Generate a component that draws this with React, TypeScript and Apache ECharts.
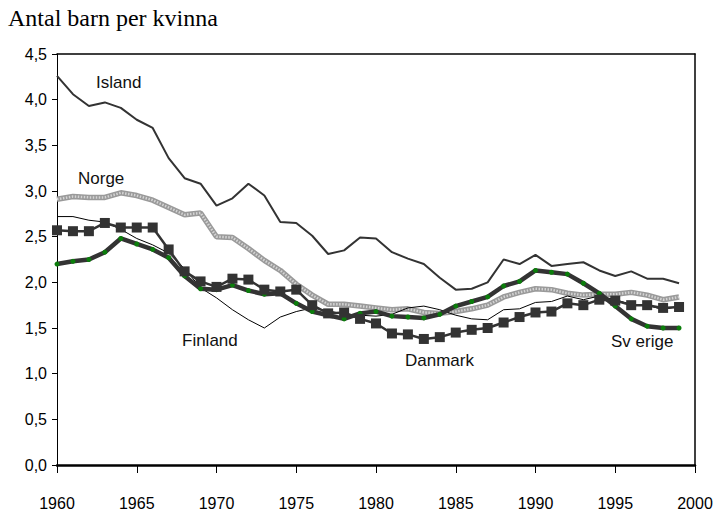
import React, { useEffect, useRef } from "react";
import * as echarts from "echarts";

const years = [
  1960, 1961, 1962, 1963, 1964, 1965, 1966, 1967, 1968, 1969,
  1970, 1971, 1972, 1973, 1974, 1975, 1976, 1977, 1978, 1979,
  1980, 1981, 1982, 1983, 1984, 1985, 1986, 1987, 1988, 1989,
  1990, 1991, 1992, 1993, 1994, 1995, 1996, 1997, 1998, 1999,
];

const island = [
  4.26, 4.06, 3.93, 3.97, 3.91, 3.78, 3.69, 3.36, 3.14, 3.08,
  2.84, 2.92, 3.08, 2.95, 2.66, 2.65, 2.51, 2.31, 2.35, 2.49,
  2.48, 2.33, 2.26, 2.2, 2.05, 1.92, 1.93, 2.0, 2.25, 2.2,
  2.3, 2.18, 2.2, 2.22, 2.13, 2.07, 2.12, 2.04, 2.04, 1.99,
];

const norge = [
  2.91, 2.94, 2.93, 2.93, 2.98, 2.95, 2.9, 2.82, 2.74, 2.76,
  2.5, 2.49, 2.37, 2.24, 2.13, 1.98, 1.86, 1.76, 1.76, 1.74,
  1.72, 1.7, 1.71, 1.67, 1.66, 1.68, 1.71, 1.75, 1.84, 1.89,
  1.93, 1.92, 1.88, 1.86, 1.87, 1.87, 1.89, 1.86, 1.81, 1.84,
];

const finland = [
  2.72, 2.72, 2.68, 2.66, 2.58, 2.48, 2.41, 2.32, 2.15, 1.94,
  1.83, 1.7, 1.59, 1.5, 1.62, 1.68, 1.72, 1.69, 1.65, 1.64,
  1.63, 1.65, 1.72, 1.74, 1.7, 1.64, 1.6, 1.59, 1.7, 1.71,
  1.78, 1.79, 1.85, 1.81, 1.85, 1.81, 1.76, 1.75, 1.7, 1.74,
];

const danmark = [
  2.57, 2.56, 2.56, 2.65, 2.6, 2.6, 2.6, 2.36, 2.12, 2.01,
  1.95, 2.04, 2.03, 1.92, 1.9, 1.92, 1.75, 1.66, 1.67, 1.6,
  1.55, 1.44, 1.43, 1.38, 1.4, 1.45, 1.48, 1.5, 1.56, 1.62,
  1.67, 1.68, 1.77, 1.75, 1.81, 1.8, 1.75, 1.75, 1.72, 1.73,
];

const sverige = [
  2.2, 2.23, 2.25, 2.33, 2.48, 2.42, 2.36, 2.27, 2.07, 1.93,
  1.92, 1.97, 1.91, 1.87, 1.88, 1.77, 1.68, 1.64, 1.6, 1.66,
  1.68, 1.63, 1.62, 1.61, 1.65, 1.74, 1.79, 1.84, 1.96, 2.01,
  2.13, 2.11, 2.09, 1.99, 1.88, 1.74, 1.6, 1.52, 1.5, 1.5,
];

const title = "Antal barn per kvinna";
const seriesLabels = [
  { text: "Island", x: 96, y: 82 },
  { text: "Norge", x: 78, y: 178 },
  { text: "Finland", x: 182, y: 340 },
  { text: "Danmark", x: 405, y: 360 },
  { text: "Sv erige", x: 611, y: 341 },
];

const SANS = '"Liberation Sans Narrow", "Arial Narrow", "Liberation Sans", Arial, sans-serif';

const pair = (vals: number[]) => vals.map((v, i) => [years[i], v]);

export default function App() {
  const ref = useRef<HTMLDivElement>(null);
  useEffect(() => {
    if (!ref.current) return;
    const chart = echarts.init(ref.current, undefined, { renderer: "svg" });
    chart.setOption({
      animation: false,
      backgroundColor: "#ffffff",
      grid: {
        left: 57,
        right: 22,
        top: 54,
        bottom: 50,
        show: false,
      },
      xAxis: [
        {
          type: "value",
          min: 1960,
          max: 2000,
          interval: 5,
          position: "bottom",
          axisLine: { show: true, onZero: false, lineStyle: { color: "#000", width: 2.5 } },
          axisTick: { show: true, length: 8, lineStyle: { color: "#000", width: 1 } },
          axisLabel: {
            color: "#000",
            fontSize: 16,
            fontFamily: SANS,
            margin: 30,
            formatter: (v: number) => String(v),
          },
          splitLine: { show: false },
        },
        {
          type: "value",
          min: 1960,
          max: 2000,
          position: "top",
          axisLine: { show: true, onZero: false, lineStyle: { color: "#000", width: 1.5 } },
          axisTick: { show: false },
          axisLabel: { show: false },
          splitLine: { show: false },
        },
      ],
      yAxis: [
        {
          type: "value",
          min: 0,
          max: 4.5,
          interval: 0.5,
          position: "left",
          axisLine: { show: true, onZero: false, lineStyle: { color: "#000", width: 1 } },
          axisTick: { show: true, length: 5, lineStyle: { color: "#000" } },
          axisLabel: {
            color: "#000",
            fontSize: 16,
            fontFamily: SANS,
            margin: 10,
            formatter: (v: number) => v.toFixed(1).replace(".", ","),
          },
          splitLine: { show: false },
        },
        {
          type: "value",
          min: 0,
          max: 4.5,
          position: "right",
          axisLine: { show: true, onZero: false, lineStyle: { color: "#000", width: 1.5 } },
          axisTick: { show: false },
          axisLabel: { show: false },
          splitLine: { show: false },
        },
      ],
      graphic: [
        {
          type: "text",
          left: 8,
          top: 6,
          style: {
            text: title,
            fontSize: 24,
            fontFamily: '"Liberation Serif", "DejaVu Serif", serif',
            fill: "#000",
          },
        },
        ...seriesLabels.map((l) => ({
          type: "text",
          x: l.x,
          y: l.y,
          style: {
            text: l.text,
            fontSize: 17,
            fontFamily: SANS,
            fill: "#111",
            verticalAlign: "middle",
          },
        })),
      ],
      series: [
        {
          name: "Island",
          type: "line",
          data: pair(island),
          symbol: "none",
          lineStyle: { color: "#333", width: 2 },
        },
        {
          name: "Norge",
          type: "line",
          data: pair(norge),
          symbol: "none",
          lineStyle: { color: "#9a9a9a", width: 5.5 },
        },
        {
          name: "Norge-hatch",
          type: "line",
          data: pair(norge),
          symbol: "none",
          lineStyle: { color: "#d4d4d4", width: 2.5, type: [1.5, 1.5] },
        },
        {
          name: "Finland",
          type: "line",
          data: pair(finland),
          symbol: "none",
          lineStyle: { color: "#000", width: 1 },
        },
        {
          name: "Sverige",
          type: "line",
          data: pair(sverige),
          symbol: "circle",
          symbolSize: 5,
          itemStyle: { color: "#0b7d0b", borderWidth: 0 },
          lineStyle: { color: "#333", width: 4.5 },
        },
        {
          name: "Danmark",
          type: "line",
          data: pair(danmark),
          symbol: "rect",
          symbolSize: 10,
          itemStyle: { color: "#333", borderWidth: 0 },
          lineStyle: { color: "#333", width: 2.5 },
        },
      ],
    });
    return () => chart.dispose();
  }, []);
  return <div ref={ref} style={{ width: 717, height: 515, position: "absolute", left: 0, top: 0 }} />;
}
